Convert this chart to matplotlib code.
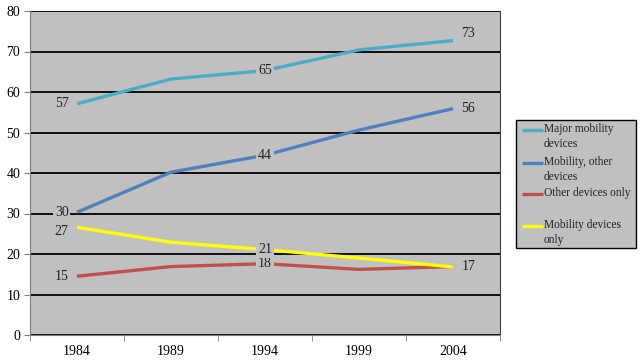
import matplotlib
matplotlib.use("Agg")
import matplotlib.pyplot as plt
from matplotlib.patches import Rectangle
from matplotlib.lines import Line2D
import numpy as np

years = ["1984", "1989", "1994", "1999", "2004"]
series_names = ["Major mobility\ndevices", "Mobility, other\ndevices", "Other devices only", "Mobility devices\nonly"]
major_mobility = [57.1, 63.2, 65.3, 70.4, 72.7]
mobility_other = [30.3, 40.2, 44.4, 50.6, 55.9]
other_only = [14.5, 16.9, 17.6, 16.2, 16.9]
mobility_only = [26.6, 22.9, 21.1, 19.0, 16.8]
labels_major = ["57", None, "65", None, "73"]
labels_mobother = ["30", None, "44", None, "56"]
labels_other = ["15", None, "18", None, None]
labels_mobonly = ["27", None, "21", None, "17"]

colors = ["#4BACC6", "#4F81BD", "#C0504D", "#FFFF00"]
bg = "#C0C0C0"

plt.rcParams['font.family'] = ['Liberation Serif', 'DejaVu Serif']

W, H = 642, 361
fig = plt.figure(figsize=(W/100, H/100), dpi=100)
ax = fig.add_axes([30/W, 26/H, 470/W, 324/H])
ax.set_facecolor(bg)

x = np.arange(len(years))
all_series = [major_mobility, mobility_other, other_only, mobility_only]
all_labels = [labels_major, labels_mobother, labels_other, labels_mobonly]

ax.set_ylim(0, 80)
ax.set_xlim(-0.5, len(years) - 0.5)
ax.set_yticks(np.arange(0, 81, 10))
ax.yaxis.grid(True, color="black", linewidth=1.3)
ax.set_axisbelow(True)

for vals, c, name in zip(all_series, colors, series_names):
    ax.plot(x, vals, color=c, linewidth=2.4, label=name, solid_capstyle="butt", zorder=3)

box = dict(boxstyle="square,pad=0.12", facecolor=bg, edgecolor="none")
for vals, labs, si in zip(all_series, all_labels, range(4)):
    for i, (v, lab) in enumerate(zip(vals, labs)):
        if lab is None:
            continue
        if i == 0:
            dx, dy, ha = -6, 0, "right"
            if si == 3:
                dy = -3
        elif i == len(years) - 1:
            dx, dy, ha = 6, 0, "left"
            if si == 0:
                dy = 5
        else:
            dx, dy, ha = 0, 0, "center"
        ax.annotate(lab, (x[i], v), xytext=(dx, dy), textcoords="offset points",
                    ha=ha, va="center", fontsize=10, color="#222222", bbox=box, zorder=5)

ax.set_xticks(x)
ax.set_xticklabels(years, fontsize=10)
ax.set_xticks(np.arange(-0.5, len(years), 1), minor=True)
ax.tick_params(axis="x", which="major", length=0, pad=7)
ax.tick_params(axis="x", which="minor", length=4, color="#808080")
ax.tick_params(axis="y", length=4, color="#808080", labelsize=10, pad=3)

for s in ["left", "bottom"]:
    ax.spines[s].set_color("#808080")
ax.spines["right"].set_color("#404040")
ax.spines["top"].set_visible(False)

# legend drawn in pixel coordinates of the figure
def fx(px):
    return px / W

def fy(py):
    return 1 - py / H

fig.add_artist(Rectangle((fx(516), fy(248)), (636 - 516) / W, (248 - 120) / H,
                         transform=fig.transFigure, facecolor=bg, edgecolor="black",
                         linewidth=1.0, zorder=10))
entry_y = [130, 163, 194, 226]
for c, name, ey in zip(colors, series_names, entry_y):
    fig.add_artist(Line2D([fx(522), fx(543)], [fy(ey), fy(ey)], transform=fig.transFigure,
                          color=c, linewidth=2.4, solid_capstyle="butt", zorder=11))
    fig.text(fx(544), fy(ey - 7), name, ha="left", va="top", fontsize=8.3,
             linespacing=1.3, color="#222222", zorder=12)

fig.savefig("out.png", dpi=100)
